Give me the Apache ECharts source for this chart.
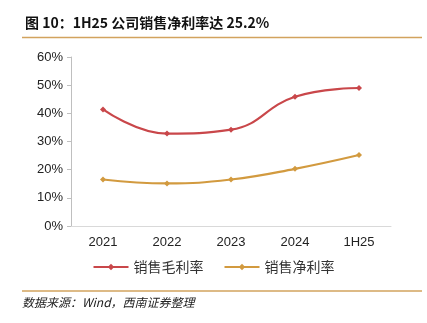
<!DOCTYPE html>
<html>
<head>
<meta charset="utf-8">
<script src="https://cdn.jsdelivr.net/npm/echarts@6/dist/echarts.min.js"></script>
<style>html,body{margin:0;padding:0;background:#fff}#c{width:427px;height:323px}</style>
</head>
<body>
<div id="c"></div>
<script>
const categories = ['2021', '2022', '2023', '2024', '1H25'];
const grossMargin = [41.4, 32.8, 34.2, 45.9, 49.0];
const netMargin = [16.5, 15.1, 16.5, 20.3, 25.2];
const yTicks = [0, 10, 20, 30, 40, 50, 60];
const seriesNames = ['销售毛利率', '销售净利率'];

const chart = echarts.init(document.getElementById('c'));
const CJK = '"Noto Sans CJK SC", "Liberation Sans", sans-serif';
chart.setOption({
  animation: false,
  title: {
    text: '图 10：1H25 公司销售净利率达 25.2%',
    left: 20, top: 11,
    textStyle: {fontSize: 14, fontWeight: 'bold', color: '#111', fontFamily: CJK}
  },
  graphic: [
    {type: 'line', shape: {x1: 22, y1: 37.5, x2: 422, y2: 37.5}, style: {stroke: '#d2a35e', lineWidth: 1.5}},
    {type: 'line', shape: {x1: 22, y1: 291, x2: 422, y2: 291}, style: {stroke: '#d2a35e', lineWidth: 1.5}},
    {type: 'text', left: 22, top: 296, style: {text: '数据来源：Wind，西南证券整理', font: 'italic 12px "Noto Sans CJK SC", "Liberation Sans", sans-serif', fill: '#222'}}
  ],
  legend: {
    data: seriesNames,
    bottom: 44,
    left: 'center',
    itemWidth: 35, itemHeight: 8, itemGap: 20,
    textStyle: {fontSize: 14, color: '#333', fontFamily: CJK}
  },
  grid: {left: 71, right: 36, top: 57, bottom: 97},
  xAxis: {
    type: 'category',
    data: categories,
    boundaryGap: true,
    axisLine: {lineStyle: {color: '#d9d9d9', width: 1}},
    axisTick: {show: false},
    axisLabel: {fontSize: 13, color: '#222', margin: 10, fontFamily: '"Liberation Sans", Arial, sans-serif'}
  },
  yAxis: {
    type: 'value',
    min: yTicks[0], max: yTicks[yTicks.length - 1], interval: 10,
    splitLine: {show: false},
    axisLine: {show: true, lineStyle: {color: '#bfbfbf'}},
    axisTick: {show: true, length: 4, lineStyle: {color: '#bfbfbf'}},
    axisLabel: {fontSize: 13, color: '#222', margin: 8, formatter: v => v + '%', fontFamily: '"Liberation Sans", Arial, sans-serif'}
  },
  series: [
    {
      name: seriesNames[0], type: 'line', data: grossMargin, smooth: 0.45,
      symbol: 'diamond', symbolSize: 6,
      lineStyle: {color: '#c9474a', width: 2.2},
      itemStyle: {color: '#c9474a'}
    },
    {
      name: seriesNames[1], type: 'line', data: netMargin, smooth: 0.45,
      symbol: 'diamond', symbolSize: 6,
      lineStyle: {color: '#d29a3f', width: 2.2},
      itemStyle: {color: '#d29a3f'}
    }
  ]
});
</script>
</body>
</html>
